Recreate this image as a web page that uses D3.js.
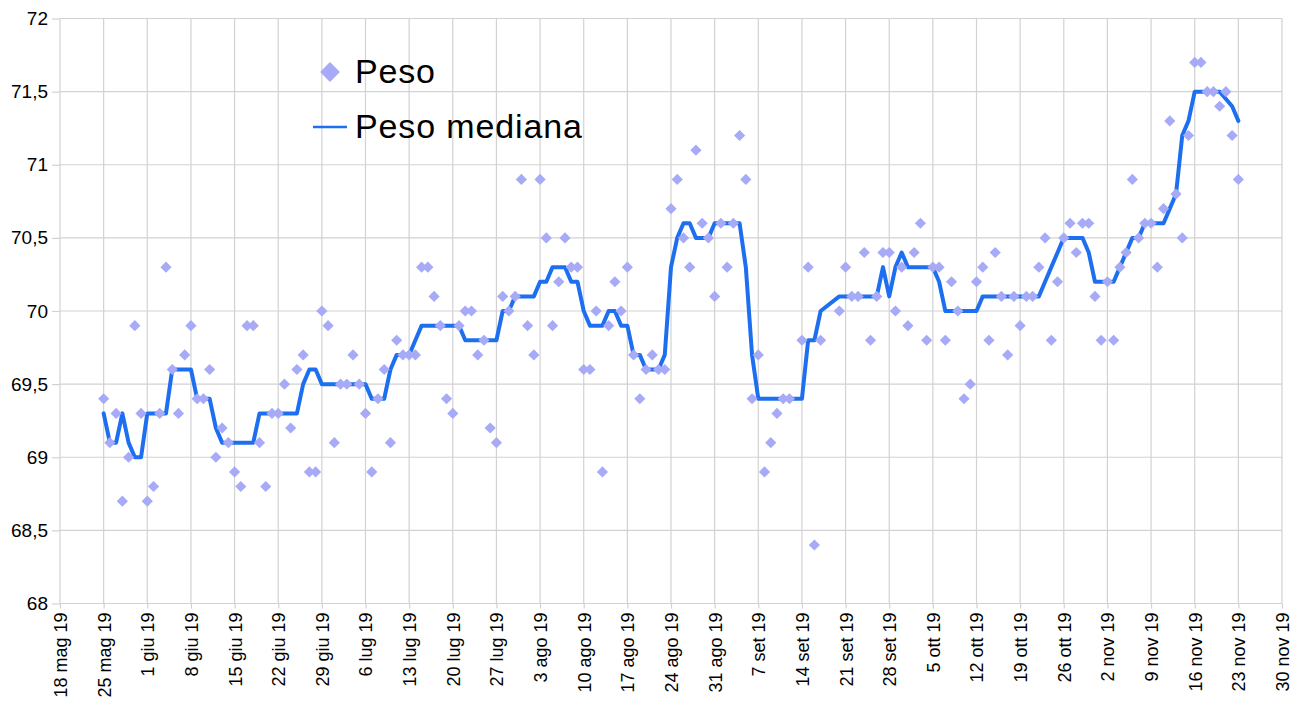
<!DOCTYPE html>
<html>
<head>
<meta charset="utf-8">
<script src="https://cdn.jsdelivr.net/npm/d3@7/dist/d3.min.js"></script>
<style>
  html, body { margin: 0; padding: 0; background: #fff; }
  svg { display: block; font-family: "Liberation Sans", Arial, sans-serif; }
</style>
</head>
<body>
<svg id="chart" width="1298" height="709"></svg>
<script>
// ---- data ------------------------------------------------------------
// one value per day starting 25 mag 2019; null = no measurement that day
const START_DAY = "2019-05-25";

const peso = [
  69.4, 69.1, 69.3, 68.7, 69.0, 69.9, 69.3, 68.7, 68.8, 69.3,
  70.3, 69.6, 69.3, 69.7, 69.9, 69.4, 69.4, 69.6, 69.0, 69.2,
  69.1, 68.9, 68.8, 69.9, 69.9, 69.1, 68.8, 69.3, 69.3, 69.5,
  69.2, 69.6, 69.7, 68.9, 68.9, 70.0, 69.9, 69.1, 69.5, 69.5,
  69.7, 69.5, 69.3, 68.9, 69.4, 69.6, 69.1, 69.8, 69.7, 69.7,
  69.7, 70.3, 70.3, 70.1, 69.9, 69.4, 69.3, 69.9, 70.0, 70.0,
  69.7, 69.8, 69.2, 69.1, 70.1, 70.0, 70.1, 70.9, 69.9, 69.7,
  70.9, 70.5, 69.9, 70.2, 70.5, 70.3, 70.3, 69.6, 69.6, 70.0,
  68.9, 69.9, 70.2, 70.0, 70.3, 69.7, 69.4, 69.6, 69.7, 69.6,
  69.6, 70.7, 70.9, 70.5, 70.3, 71.1, 70.6, 70.5, 70.1, 70.6,
  70.3, 70.6, 71.2, 70.9, 69.4, 69.7, 68.9, 69.1, 69.3, 69.4,
  69.4, null, 69.8, 70.3, 68.4, 69.8, null, null, 70.0, 70.3,
  70.1, 70.1, 70.4, 69.8, 70.1, 70.4, 70.4, 70.0, 70.3, 69.9,
  70.4, 70.6, 69.8, 70.3, 70.3, 69.8, 70.2, 70.0, 69.4, 69.5,
  70.2, 70.3, 69.8, 70.4, 70.1, 69.7, 70.1, 69.9, 70.1, 70.1,
  70.3, 70.5, 69.8, 70.2, 70.5, 70.6, 70.4, 70.6, 70.6, 70.1,
  69.8, 70.2, 69.8, 70.3, 70.4, 70.9, 70.5, 70.6, 70.6, 70.3,
  70.7, 71.3, 70.8, 70.5, 71.2, 71.7, 71.7, 71.5, 71.5, 71.4,
  71.5, 71.2, 70.9
];

const pesoMediana = [
  69.3, 69.1, 69.1, 69.3, 69.1, 69.0, 69.0, 69.3, 69.3, 69.3,
  69.3, 69.6, 69.6, 69.6, 69.6, 69.4, 69.4, 69.4, 69.2, 69.1,
  69.1, 69.1, 69.1, 69.1, 69.1, 69.3, 69.3, 69.3, 69.3, 69.3,
  69.3, 69.3, 69.5, 69.6, 69.6, 69.5, 69.5, 69.5, 69.5, 69.5,
  69.5, 69.5, 69.5, 69.4, 69.4, 69.4, 69.6, 69.7, 69.7, 69.7,
  69.8, 69.9, 69.9, 69.9, 69.9, 69.9, 69.9, 69.9, 69.8, 69.8,
  69.8, 69.8, 69.8, 69.8, 70.0, 70.0, 70.1, 70.1, 70.1, 70.1,
  70.2, 70.2, 70.3, 70.3, 70.3, 70.2, 70.2, 70.0, 69.9, 69.9,
  69.9, 70.0, 70.0, 69.9, 69.9, 69.7, 69.7, 69.6, 69.6, 69.6,
  69.7, 70.3, 70.5, 70.6, 70.6, 70.5, 70.5, 70.5, 70.6, 70.6,
  70.6, 70.6, 70.6, 70.3, 69.7, 69.4, 69.4, 69.4, 69.4, 69.4,
  69.4, null, 69.4, 69.8, 69.8, 70.0, null, null, 70.1, 70.1,
  70.1, 70.1, 70.1, 70.1, 70.1, 70.3, 70.1, 70.3, 70.4, 70.3,
  70.3, 70.3, 70.3, 70.3, 70.2, 70.0, 70.0, 70.0, 70.0, 70.0,
  70.0, 70.1, 70.1, 70.1, 70.1, 70.1, 70.1, 70.1, 70.1, 70.1,
  70.1, 70.2, 70.3, 70.4, 70.5, 70.5, 70.5, 70.5, 70.4, 70.2,
  70.2, 70.2, 70.2, 70.3, 70.4, 70.5, 70.5, 70.6, 70.6, 70.6,
  70.6, 70.7, 70.8, 71.2, 71.3, 71.5, 71.5, 71.5, 71.5, 71.5,
  71.45, 71.4, 71.3
];

const xTickLabels = [
  "18 mag 19", "25 mag 19", "1 giu 19", "8 giu 19", "15 giu 19", "22 giu 19",
  "29 giu 19", "6 lug 19", "13 lug 19", "20 lug 19", "27 lug 19", "3 ago 19",
  "10 ago 19", "17 ago 19", "24 ago 19", "31 ago 19", "7 set 19", "14 set 19",
  "21 set 19", "28 set 19", "5 ott 19", "12 ott 19", "19 ott 19", "26 ott 19",
  "2 nov 19", "9 nov 19", "16 nov 19", "23 nov 19", "30 nov 19"
];
const yTicks = [68, 68.5, 69, 69.5, 70, 70.5, 71, 71.5, 72];
const yTickLabels = ["68", "68,5", "69", "69,5", "70", "70,5", "71", "71,5", "72"];
const seriesNames = ["Peso", "Peso mediana"];

// ---- look ------------------------------------------------------------
const DOT  = "#a7aaf7";
const LINE = "#1d6ff0";
const GRID = "#d2d2d2";
const LEFT = 60, RIGHT = 1282, TOP = 18.5, BOTTOM = 603.5;

const svg = d3.select("#chart");

const day0 = d3.utcParse("%Y-%m-%d")(START_DAY);
const xFirst = d3.utcDay.offset(day0, -7);
const xTickDates = xTickLabels.map((_, i) => d3.utcDay.offset(xFirst, 7 * i));

const x = d3.scaleUtc()
  .domain([xFirst, xTickDates[xTickDates.length - 1]])
  .range([LEFT, RIGHT]);

const y = d3.scaleLinear()
  .domain([yTicks[0], yTicks[yTicks.length - 1]])
  .range([BOTTOM, TOP]);

const rows = peso.map((v, i) => ({
  date: d3.utcDay.offset(day0, i),
  peso: v,
  med: pesoMediana[i]
}));

// grid
svg.append("g")
  .selectAll("line")
  .data(yTicks).enter()
  .append("line")
  .attr("x1", LEFT).attr("x2", RIGHT)
  .attr("y1", d => y(d)).attr("y2", d => y(d))
  .attr("stroke", GRID).attr("stroke-width", 1.2);

svg.append("g")
  .selectAll("line")
  .data(xTickDates).enter()
  .append("line")
  .attr("x1", d => x(d)).attr("x2", d => x(d))
  .attr("y1", TOP).attr("y2", BOTTOM)
  .attr("stroke", GRID).attr("stroke-width", 1.2);

// axes
const yAxis = svg.append("g")
  .attr("transform", `translate(${LEFT},0)`)
  .call(d3.axisLeft(y).tickValues(yTicks).tickSize(8).tickPadding(4)
    .tickFormat((d, i) => yTickLabels[i]));
yAxis.select(".domain").remove();
yAxis.selectAll(".tick line").attr("stroke", GRID).attr("stroke-width", 1.2);
yAxis.selectAll("text")
  .attr("fill", "#000")
  .attr("font-size", 19)
  .attr("font-family", "Liberation Sans, Arial, sans-serif");

const xAxis = svg.append("g")
  .attr("transform", `translate(0,${BOTTOM})`)
  .call(d3.axisBottom(x).tickValues(xTickDates).tickSize(5)
    .tickFormat((d, i) => xTickLabels[i]));
xAxis.select(".domain").remove();
xAxis.selectAll(".tick line").attr("stroke", GRID).attr("stroke-width", 1.2);
xAxis.selectAll("text")
  .attr("transform", "rotate(-90)")
  .attr("text-anchor", "end")
  .attr("x", -9)
  .attr("y", 0)
  .attr("dy", "0.36em")
  .attr("fill", "#000")
  .attr("font-size", 18)
  .attr("font-family", "Liberation Sans, Arial, sans-serif");

// median line (days without a row are simply skipped, like the original)
const medRows = rows.filter(r => r.med != null);
svg.append("path")
  .datum(medRows)
  .attr("fill", "none")
  .attr("stroke", LINE)
  .attr("stroke-width", 4)
  .attr("stroke-linejoin", "round")
  .attr("stroke-linecap", "round")
  .attr("d", d3.line().x(d => x(d.date)).y(d => y(d.med)));

// diamonds
const diamond = d3.symbol().type(d3.symbolDiamond2).size(80);
svg.append("g")
  .selectAll("path")
  .data(rows.filter(r => r.peso != null)).enter()
  .append("path")
  .attr("transform", d => `translate(${x(d.date)},${y(d.peso)})`)
  .attr("d", diamond)
  .attr("fill", DOT);

// legend
const lg = svg.append("g").attr("font-family", "Liberation Sans, Arial, sans-serif");
lg.append("path")
  .attr("transform", "translate(330,72)")
  .attr("d", d3.symbol().type(d3.symbolDiamond2).size(250)())
  .attr("fill", DOT);
lg.append("text")
  .attr("x", 355).attr("y", 83)
  .attr("font-size", 34)
  .attr("textLength", 80)
  .attr("fill", "#000")
  .text(seriesNames[0]);
lg.append("line")
  .attr("x1", 313).attr("x2", 347)
  .attr("y1", 127).attr("y2", 127)
  .attr("stroke", LINE).attr("stroke-width", 2.5);
lg.append("text")
  .attr("x", 355).attr("y", 138)
  .attr("font-size", 34)
  .attr("textLength", 227)
  .attr("fill", "#000")
  .text(seriesNames[1]);
</script>
</body>
</html>
